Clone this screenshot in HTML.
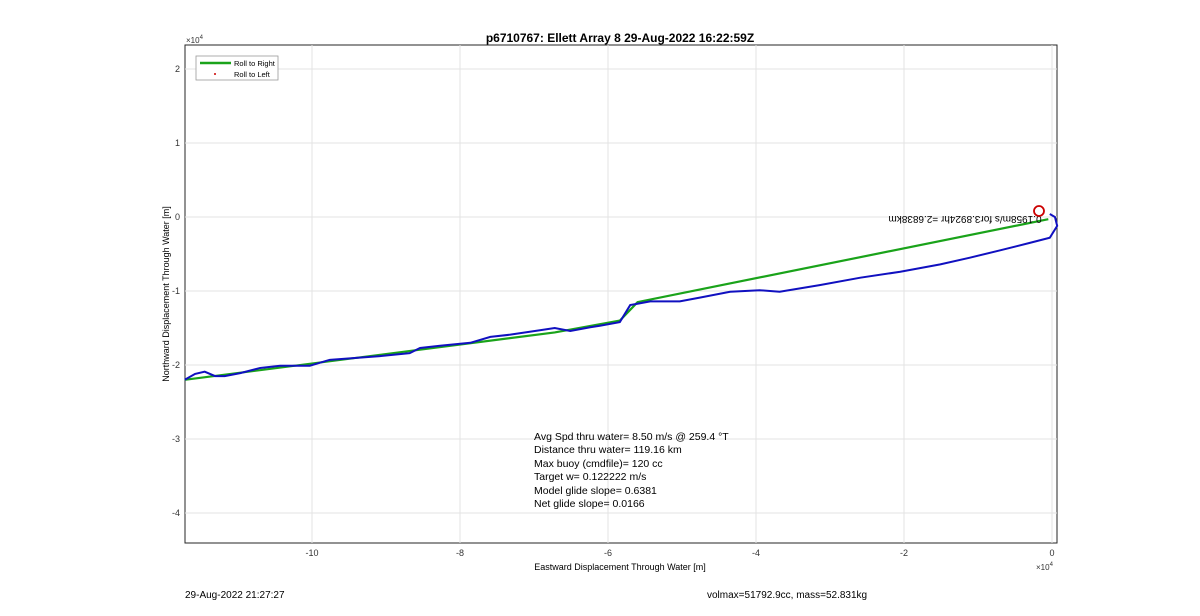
<!DOCTYPE html>
<html><head><meta charset="utf-8"><style>
body{margin:0;background:#fff;font-family:"Liberation Sans",sans-serif}
svg text{font-family:"Liberation Sans",sans-serif}
</style></head><body>
<svg id="chart" width="1200" height="611">
<rect x="185" y="45" width="872" height="498" fill="#fff" stroke="#262626" stroke-width="1"/>
<g id="grid"></g><g id="ticks"></g>
<text x="620" y="42" text-anchor="middle" font-size="12" font-weight="bold">p6710767: Ellett Array 8 29-Aug-2022 16:22:59Z</text>
<text x="620" y="570" text-anchor="middle" font-size="9">Eastward Displacement Through Water [m]</text>
<text transform="translate(169,294) rotate(-90)" text-anchor="middle" font-size="9">Northward Displacement Through Water [m]</text>
<text x="186" y="43" font-size="8" fill="#333">×10<tspan dy="-4" font-size="6">4</tspan></text>
<text x="1036" y="570" font-size="8" fill="#333">×10<tspan dy="-4" font-size="6">4</tspan></text>
<g id="series"></g>
<text transform="translate(965,216) rotate(180)" text-anchor="middle" font-size="10">0.1958m/s for3.8924hr =2.6838km</text>
<circle cx="1039" cy="211" r="5" fill="none" stroke="#c00" stroke-width="1.8"/>
<g>
<rect x="196" y="56" width="82" height="24" fill="#fff" stroke="#999" stroke-width="0.8"/>
<line x1="200" y1="63" x2="231" y2="63" stroke="#1aa31a" stroke-width="2.5"/>
<text x="234" y="66" font-size="7.5">Roll to Right</text>
<circle cx="215" cy="74" r="1" fill="#c00"/>
<text x="234" y="77" font-size="7.5">Roll to Left</text>
</g>
<g font-size="10.5">
<text x="534" y="440">Avg Spd thru water=  8.50 m/s @ 259.4 °T</text>
<text x="534" y="453">Distance thru water= 119.16 km</text>
<text x="534" y="467">Max buoy (cmdfile)= 120 cc</text>
<text x="534" y="480">Target w= 0.122222 m/s</text>
<text x="534" y="494">Model glide slope= 0.6381</text>
<text x="534" y="507">Net glide slope= 0.0166</text>
</g>
<text x="185" y="598" font-size="10">29-Aug-2022 21:27:27</text>
<text x="707" y="598" font-size="10">volmax=51792.9cc, mass=52.831kg</text>
</svg>
<script>
const xTicks=[-10,-8,-6,-4,-2,0];
const yTicks=[2,1,0,-1,-2,-3,-4];
const blueX=[-11.72,-11.58,-11.45,-11.31,-11.18,-10.97,-10.70,-10.43,-10.03,-9.76,-9.49,-9.08,-8.68,-8.54,-8.27,-7.86,-7.59,-7.32,-6.92,-6.72,-6.51,-6.24,-6.11,-5.84,-5.70,-5.43,-5.03,-4.76,-4.35,-3.95,-3.68,-3.14,-2.59,-2.05,-1.51,-1.11,-0.70,-0.30,-0.03,0.07,0.04,-0.03];
const blueY=[-2.20,-2.12,-2.09,-2.15,-2.15,-2.11,-2.04,-2.01,-2.01,-1.93,-1.91,-1.88,-1.84,-1.77,-1.74,-1.70,-1.62,-1.59,-1.53,-1.50,-1.54,-1.49,-1.47,-1.42,-1.19,-1.14,-1.14,-1.09,-1.01,-0.99,-1.01,-0.92,-0.82,-0.74,-0.64,-0.55,-0.45,-0.35,-0.28,-0.12,0,0.04];
const greenX=[-11.72,-6.72,-5.84,-5.6,-0.05];
const greenY=[-2.20,-1.56,-1.40,-1.15,-0.03];
const NS="http://www.w3.org/2000/svg";
const sx=v=>1052+v*74, sy=v=>217-v*74;
function mk(t,a,p){const e=document.createElementNS(NS,t);for(const k in a)e.setAttribute(k,a[k]);document.getElementById(p).appendChild(e);return e;}
xTicks.forEach(t=>{
 const g=mk('line',{x1:sx(t),x2:sx(t),y1:45,y2:543,stroke:'#e3e3e3','stroke-width':1},'grid');
 
 
 const l=mk('text',{x:sx(t),y:556,'text-anchor':'middle','font-size':9,fill:'#333'},'ticks');
 l.textContent=t;
 
 
});
yTicks.forEach(t=>{
 const g=mk('line',{x1:185,x2:1057,y1:sy(t),y2:sy(t),stroke:'#e3e3e3','stroke-width':1},'grid');
 
 
 const l=mk('text',{x:180,y:sy(t)+3,'text-anchor':'end','font-size':9,fill:'#333'},'ticks');
 l.textContent=t;
 
 
});
const gp=mk('polyline',{points:greenX.map((v,i)=>sx(v)+','+sy(greenY[i])).join(' '),fill:'none',stroke:'#1aa31a','stroke-width':2.2},'series');


const bp=mk('polyline',{points:blueX.map((v,i)=>sx(v)+','+sy(blueY[i])).join(' '),fill:'none',stroke:'#1010c0','stroke-width':2},'series');


</script>
</body></html>
